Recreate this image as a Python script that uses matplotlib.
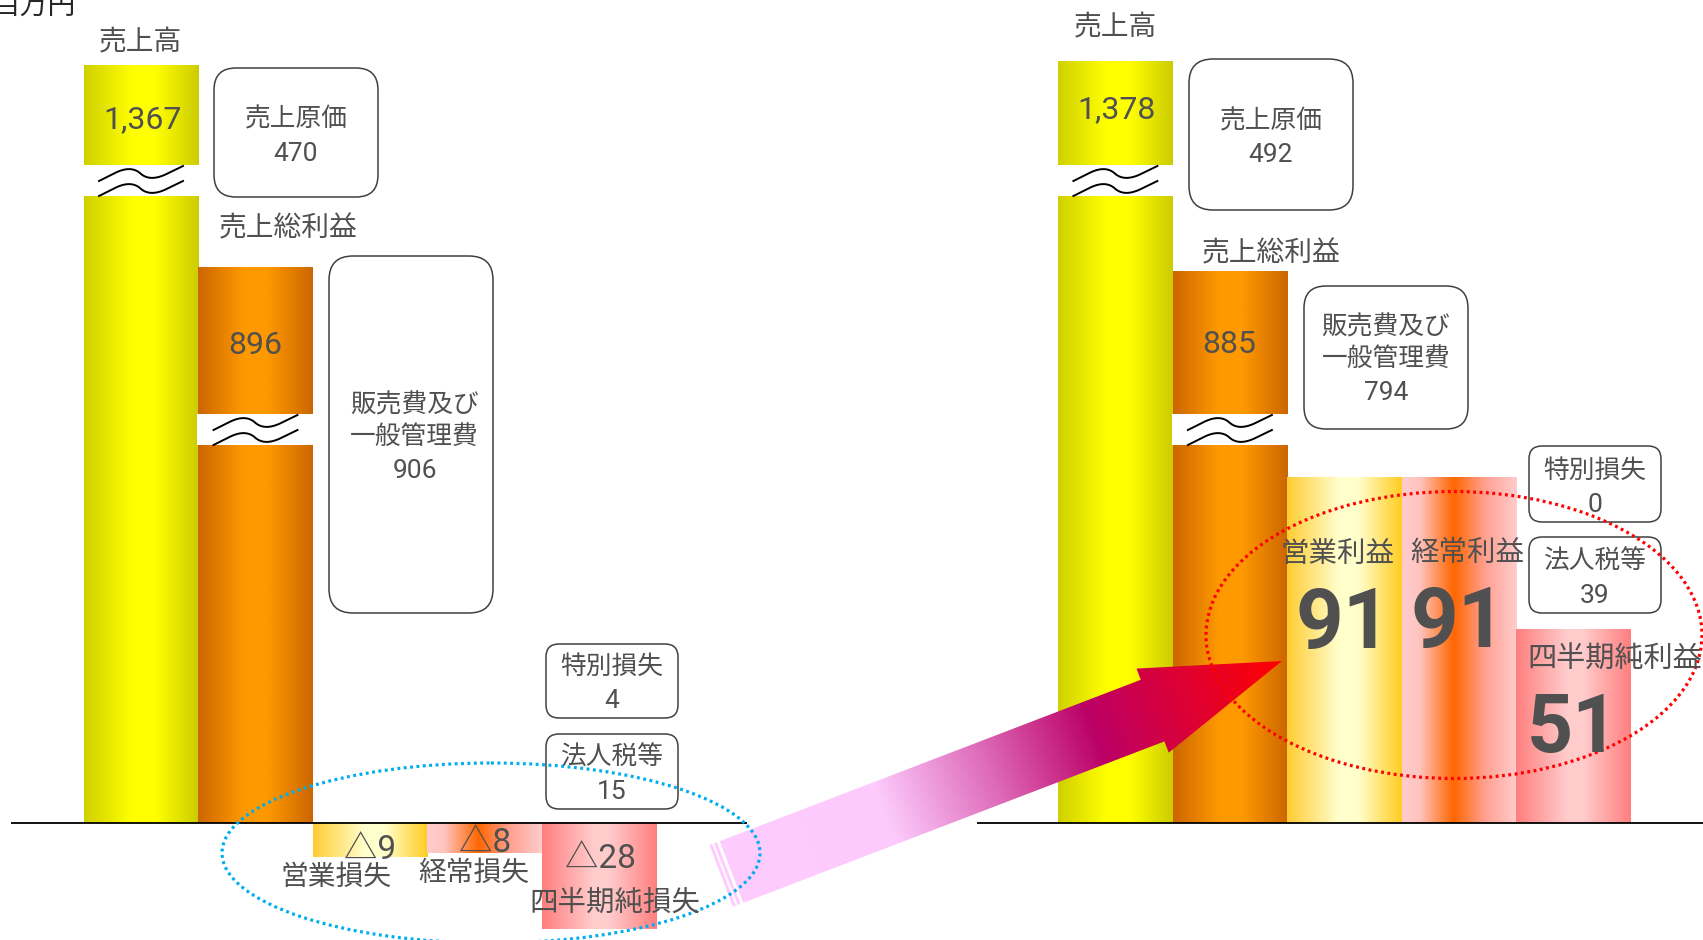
import numpy as np
import matplotlib
matplotlib.use("Agg")
import matplotlib.pyplot as plt
from matplotlib.patches import FancyBboxPatch, Ellipse, Polygon, Rectangle
from matplotlib.colors import to_rgb

plt.rcParams['font.family'] = ['Noto Sans CJK JP', 'DejaVu Sans']
NUM_FAMILY = ['Roboto', 'Noto Sans CJK JP', 'DejaVu Sans']

# ---------------- data (単位: 百万円) ----------------
unit_label = "百万円"
bar_names = ["売上高", "売上総利益"]
loss_labels = ["営業損失", "経常損失", "四半期純損失"]
profit_labels = ["営業利益", "経常利益", "四半期純利益"]
sales = [1367, 1378]
gross_profit = [896, 885]
operating_income = [-9, 91]
ordinary_income = [-8, 91]
net_income = [-28, 51]
cost_of_sales = [470, 492]
sga_expenses = [906, 794]
special_loss = [4, 0]
income_taxes = [15, 39]
box_names = ["売上原価", ["販売費及び", "一般管理費"], "特別損失", "法人税等"]

# ---------------- figure / scales ----------------
W, H = 1703, 940
fig = plt.figure(figsize=(W / 100, H / 100), dpi=100)
ax = fig.add_axes([0, 0, 1, 1])

# broken-axis style compression for the large bars
XP = [-3000, 100, 890, 1400, 3000]
FP = [-3000, 100, 145.5, 203, 383.3]


def fwd(v):
    return np.interp(v, XP, FP)


def inv(d):
    return np.interp(d, FP, XP)


ax.set_yscale('function', functions=(fwd, inv))
PX_X = 114.5
X0_PX = 141
ax.set_xlim(-X0_PX / PX_X, (W - X0_PX) / PX_X)
PX_PER = 3.8
BASE = 823
ax.set_ylim(inv(-(H - BASE) / PX_PER), inv(BASE / PX_PER))
ax.axis('off')

ov = fig.add_axes([0, 0, 1, 1])
ov.set_autoscale_on(False)
ov.set_xlim(0, W)
ov.set_ylim(H, 0)
ov.axis('off')

TXT = '#505050'

GRADS = [
    [(0, '#D0D000'), (0.42, '#FFFF00'), (0.62, '#FFFF00'), (1, '#CCCC00')],
    [(0, '#CC6600'), (0.4, '#FF9900'), (0.6, '#FF9900'), (1, '#CC6600')],
    [(0, '#FFCC33'), (0.45, '#FFFFCC'), (0.62, '#FFFFCC'), (1, '#FFCC22')],
    [(0, '#FFCCCC'), (0.15, '#FFC4C0'), (0.45, '#FF6600'), (0.72, '#FFA090'), (1, '#FFCCCC')],
    [(0, '#FF7F7F'), (0.45, '#FFCCCC'), (0.58, '#FFCCCC'), (1, '#FF7F7F')],
]
BASE_COLORS = ['#EEEE00', '#EE8800', '#FFEE99', '#FF9977', '#FFAAAA']


def grad_img(stops, n=256):
    t = np.linspace(0, 1, n)
    pos = [s[0] for s in stops]
    cols = np.array([to_rgb(s[1]) for s in stops])
    img = np.stack([np.interp(t, pos, cols[:, i]) for i in range(3)], axis=-1)
    return img[None, :, :]


PANEL_OFFSET = [0.0, 8.51]
bar_artists = []
for p in range(2):
    vals = [sales[p], gross_profit[p], operating_income[p], ordinary_income[p], net_income[p]]
    xs = PANEL_OFFSET[p] + np.arange(len(vals))
    bc = ax.bar(xs, vals, width=1.0, color=BASE_COLORS, linewidth=0)
    bar_artists.append(list(bc))


def px_box(rect):
    (x0, y0), (x1, y1) = ax.transData.transform(
        [(rect.get_x(), 0), (rect.get_x() + rect.get_width(), rect.get_height())])
    return x0, x1, H - y0, H - y1


for p in range(2):
    for i, r in enumerate(bar_artists[p]):
        x0, x1, ya, yb = px_box(r)
        ov.imshow(grad_img(GRADS[i]), extent=(x0, x1, max(ya, yb), min(ya, yb)),
                  aspect='auto', interpolation='bilinear', zorder=1)

# baseline
base_px = H - ax.transData.transform((0, 0))[1]
ov.plot([11, 747], [base_px, base_px], color='black', lw=1.3, zorder=3, solid_capstyle='butt')
ov.plot([977, W], [base_px, base_px], color='black', lw=1.3, zorder=3, solid_capstyle='butt')

# break marks
GAP_SALES = (165, 196)
GAP_GROSS = (414, 445)


def chaikin(pts, n=4):
    pts = np.asarray(pts, float)
    for _ in range(n):
        q = 0.75 * pts[:-1] + 0.25 * pts[1:]
        r = 0.25 * pts[:-1] + 0.75 * pts[1:]
        mid = np.empty((2 * len(q), 2))
        mid[0::2] = q
        mid[1::2] = r
        pts = np.vstack([pts[:1], mid, pts[-1:]])
    return pts


def wave_xy(cx, ytop):
    key = [(-42, 15), (-10, -1), (9, 16), (42, 0)]
    pts = chaikin(key, 4)
    return cx + pts[:, 0], ytop + pts[:, 1]


for p in range(2):
    for i, gap in [(0, GAP_SALES), (1, GAP_GROSS)]:
        x0, x1, _, _ = px_box(bar_artists[p][i])
        ov.add_patch(Rectangle((x0 - 1, gap[0]), x1 - x0 + 2, gap[1] - gap[0],
                               facecolor='white', edgecolor='none', zorder=2))
        cx = (x0 + x1) / 2
        for dy in (1, 16):
            wx, wy = wave_xy(cx, gap[0] + dy)
            ov.plot(wx, wy, color='black', lw=1.4, zorder=3)

# arrow
T = np.array([731.5, 872.0])
P = np.array([1282.0, 661.0])
L = np.linalg.norm(P - T)
u = (P - T) / L
nrm = np.array([-u[1], u[0]])
if nrm[1] < 0:
    nrm = -nrm
SH, HH, HB = 33, 45, 451
pts = [T - SH * nrm, T + HB * u - SH * nrm, T + HB * u - HH * nrm, P,
       T + HB * u + HH * nrm, T + HB * u + SH * nrm, T + SH * nrm]
arrow_poly = Polygon(pts, closed=True, facecolor='none', edgecolor='none', zorder=4)
ov.add_patch(arrow_poly)
xa = np.arange(700, 1290)
ya = np.arange(650, 915)
XX, YY = np.meshgrid(xa, ya)
tt = ((XX - T[0]) * u[0] + (YY - T[1]) * u[1]) / L
astops = [(0, '#FFCCFF'), (0.28, '#FCCAFC'), (0.47, '#DE6AB8'), (0.66, '#BB0066'),
          (0.82, '#DC0035'), (1.0, '#FF0000')]
apos = [s[0] for s in astops]
acol = np.array([to_rgb(s[1]) for s in astops])
aimg = np.stack([np.interp(tt, apos, acol[:, i]) for i in range(3)], axis=-1)
im = ov.imshow(aimg, extent=(700, 1290, 915, 650), origin='upper', aspect='auto',
               interpolation='bilinear', zorder=4)
im.set_clip_path(arrow_poly)
for s0, s1 in [(-6, -3), (-11, -8)]:
    sp = [T + s0 * u - SH * nrm, T + s1 * u - SH * nrm, T + s1 * u + SH * nrm, T + s0 * u + SH * nrm]
    ov.add_patch(Polygon(sp, closed=True, facecolor='#FFCCFF', edgecolor='none', zorder=4))

# boxes
BOXES = [
    ((214, 68, 378, 197), 22), ((329, 256, 493, 613), 24), ((546, 644, 678, 718), 13), ((546, 734, 678, 809), 13),
    ((1189, 59, 1353, 210), 24), ((1304, 286, 1468, 429), 22), ((1529, 446, 1661, 522), 13), ((1529, 537, 1661, 613), 13),
]
for (x0, y0, x1, y1), rr in BOXES:
    ov.add_patch(FancyBboxPatch((x0, y0), x1 - x0, y1 - y0,
                                boxstyle=f"round,pad=0,rounding_size={rr}",
                                facecolor='white', edgecolor='#404040', lw=1.1, zorder=5))

# ellipses
ov.add_patch(Ellipse((491, 853), 538, 180, fill=False, edgecolor='#00AEEF', lw=2.3,
                     linestyle=(0, (0.9, 1.1)), zorder=6))
ov.add_patch(Ellipse((1454, 635), 496, 287, fill=False, edgecolor='#FF0000', lw=2.3,
                     linestyle=(0, (0.9, 1.1)), zorder=6))


# ---------------- text ----------------
def fmt(v):
    return f"{v:,}" if v >= 0 else f"△{-v:,}"


def lab(x, y, s, size, weight='normal', color=TXT):
    ov.text(x, y, s, ha='center', va='center', fontsize=size, fontweight=weight, color=color, zorder=8)


def num(x, y, s, size, weight='normal', color=TXT):
    ov.text(x, y, s, ha='center', va='baseline', fontsize=size, fontweight=weight, color=color,
            family=NUM_FAMILY, zorder=8)


lab(34, 6, unit_label, 20, color='#262626')

# left panel
lab(140, 42, bar_names[0], 20)
num(142.5, 128, fmt(sales[0]), 23)
lab(288, 228, bar_names[1], 20)
num(255.5, 354, fmt(gross_profit[0]), 23)
lab(296, 119, box_names[0], 18.5)
num(296, 161, fmt(cost_of_sales[0]), 19)
lab(414.5, 405, box_names[1][0], 18.5)
lab(414.5, 437, box_names[1][1], 18.5)
num(414.5, 478, fmt(sga_expenses[0]), 19)
lab(612, 667, box_names[2], 18.5)
num(612, 708, fmt(special_loss[0]), 19)
lab(612, 758, box_names[3], 18.5)
num(612, 799, fmt(income_taxes[0]), 19)
num(370, 859, fmt(operating_income[0]), 24)
lab(336, 877, loss_labels[0], 20)
num(485, 852, fmt(ordinary_income[0]), 24)
lab(474, 873, loss_labels[1], 20)
num(600, 868, fmt(net_income[0]), 24)
lab(615, 903, loss_labels[2], 20.5)

# right panel
lab(1115, 27, bar_names[0], 20)
num(1117, 118, fmt(sales[1]), 23)
lab(1271, 253, bar_names[1], 20)
num(1229.5, 353, fmt(gross_profit[1]), 23)
lab(1271, 121, box_names[0], 18.5)
num(1271, 162, fmt(cost_of_sales[1]), 19)
lab(1386, 327, box_names[1][0], 18.5)
lab(1386, 359, box_names[1][1], 18.5)
num(1386, 400, fmt(sga_expenses[1]), 19)
lab(1595, 471, box_names[2], 18.5)
num(1595, 512, fmt(special_loss[1]), 19)
lab(1595, 562, box_names[3], 18.5)
num(1595, 603, fmt(income_taxes[1]), 19)
lab(1337, 555, profit_labels[0], 20.5)
num(1343, 648, fmt(operating_income[1]), 60, 'bold')
lab(1467, 553, profit_labels[1], 20.5)
num(1458, 647, fmt(ordinary_income[1]), 60, 'bold')
lab(1615, 660, profit_labels[2], 21)
num(1573, 752, fmt(net_income[1]), 58, 'bold')

ov.set_xlim(0, W)
ov.set_ylim(H, 0)
fig.savefig("out.png", dpi=100, facecolor='white')
